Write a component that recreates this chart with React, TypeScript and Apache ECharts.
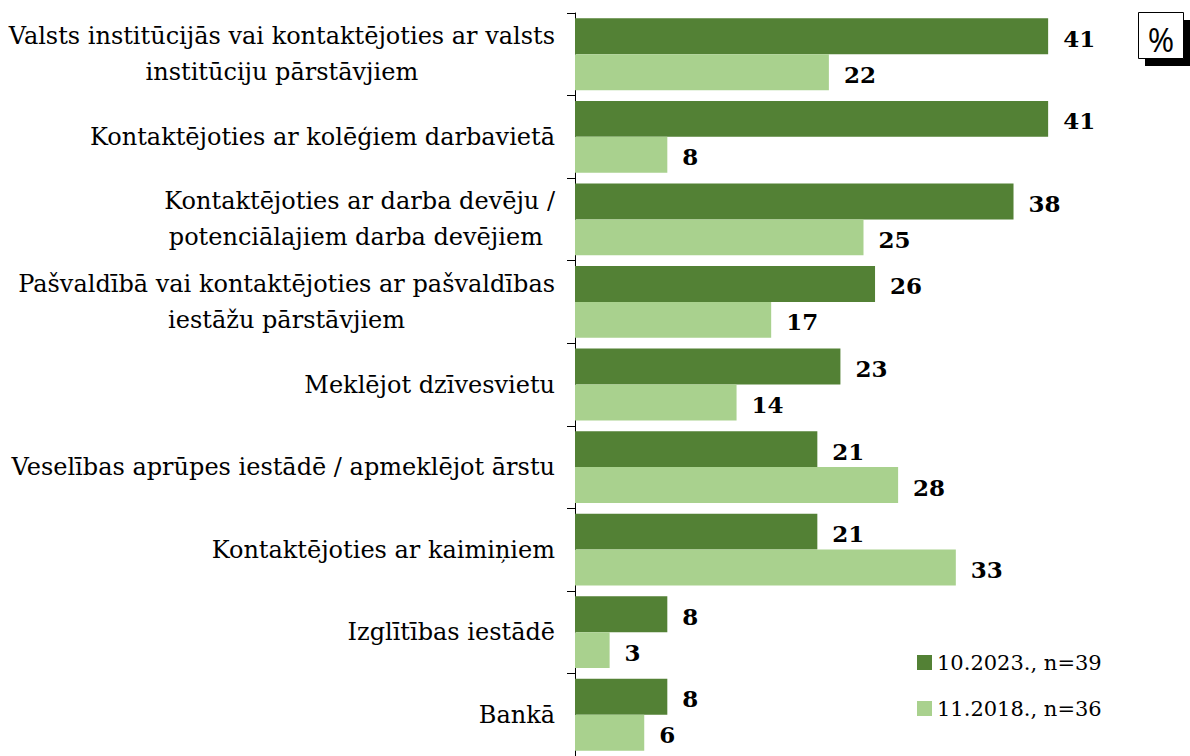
import React, { useEffect, useRef } from "react";
import * as echarts from "echarts";

const categories = [
  "Valsts institūcijās vai kontaktējoties ar valsts\ninstitūciju pārstāvjiem",
  "Kontaktējoties ar kolēģiem darbavietā",
  "Kontaktējoties ar darba devēju /\npotenciālajiem darba devējiem ",
  "Pašvaldībā vai kontaktējoties ar pašvaldības\niestāžu pārstāvjiem",
  "Meklējot dzīvesvietu",
  "Veselības aprūpes iestādē / apmeklējot ārstu",
  "Kontaktējoties ar kaimiņiem",
  "Izglītības iestādē",
  "Bankā",
];

const series2023Name = "10.2023., n=39";
const series2018Name = "11.2018., n=36";
const values2023 = [41, 41, 38, 26, 23, 21, 21, 8, 8];
const values2018 = [22, 8, 25, 17, 14, 28, 33, 3, 6];

const DARK = "#538135";
const LIGHT = "#A9D18E";
const SERIF = "'DejaVu Serif', serif";

export default function App() {
  const ref = useRef<HTMLDivElement>(null);

  useEffect(() => {
    if (!ref.current) return;
    const chart = echarts.init(ref.current, null, { renderer: "svg" });

    const valueLabel = {
      show: true,
      position: "right" as const,
      distance: 15,
      offset: [0, 2],
      color: "#000",
      fontFamily: SERIF,
      fontWeight: "bold" as const,
      fontSize: 23,
    };

    chart.setOption({
      animation: false,
      backgroundColor: "#fff",
      grid: { left: 575, top: 13, width: 577, height: 749, containLabel: false },
      xAxis: {
        type: "value",
        min: 0,
        max: 50,
        show: false,
      },
      yAxis: {
        type: "category",
        inverse: true,
        data: categories,
        axisLine: { show: true, lineStyle: { color: "#000", width: 1 } },
        axisTick: { show: true, length: 8, lineStyle: { color: "#000" } },
        axisLabel: {
          margin: 20,
          formatter: (v: string) =>
            v
              .split("\n")
              .map((s) => `{c|${s}}`)
              .join("\n"),
          rich: {
            c: {
              fontFamily: SERIF,
              fontSize: 24,
              lineHeight: 36,
              align: "center",
              color: "#000",
            },
          },
        },
        splitLine: { show: false },
      },
      legend: {
        orient: "vertical",
        left: 912,
        top: 647,
        icon: "rect",
        itemWidth: 15,
        itemHeight: 15,
        itemGap: 25,
        textStyle: {
          fontFamily: SERIF,
          fontSize: 21,
          lineHeight: 21,
          color: "#000",
        },
        data: [series2023Name, series2018Name],
      },
      series: [
        {
          name: series2023Name,
          type: "bar",
          data: values2023,
          barGap: "0%",
          barCategoryGap: "13%",
          itemStyle: { color: DARK },
          label: valueLabel,
        },
        {
          name: series2018Name,
          type: "bar",
          data: values2018,
          barGap: "0%",
          barCategoryGap: "13%",
          itemStyle: { color: LIGHT },
          label: valueLabel,
        },
      ],
      graphic: [
        {
          type: "rect",
          shape: { x: 1145, y: 20, width: 46, height: 46 },
          style: { fill: "#000" },
        },
        {
          type: "rect",
          shape: { x: 1138.5, y: 12.5, width: 45, height: 46 },
          style: { fill: "#fff", stroke: "#000", lineWidth: 1 },
        },
        {
          type: "text",
          x: 1161,
          y: 39,
          style: {
            text: "%",
            fontFamily: "'Open Sans', sans-serif",
            fontSize: 32,
            fontWeight: 400,
            fill: "#000",
            align: "center",
            verticalAlign: "middle",
          },
        },
      ],
    });

    return () => chart.dispose();
  }, []);

  return (
    <div
      ref={ref}
      style={{ position: "absolute", left: 0, top: 0, width: 1190, height: 756 }}
    />
  );
}
